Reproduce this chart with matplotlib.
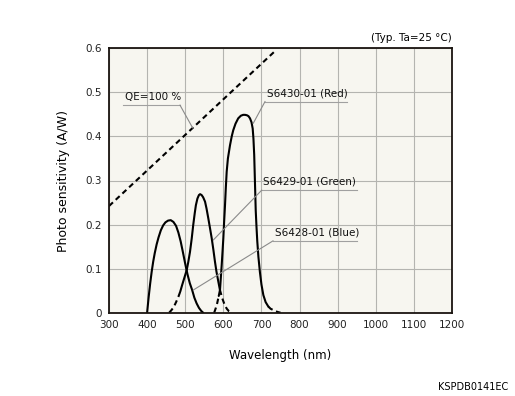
import matplotlib
matplotlib.use("Agg")
import matplotlib.pyplot as plt

# ---- data ----
qe_wl = [300, 736]
qe_val = [0.242, 0.594]

blue_wl = [400, 404, 408, 412, 416, 420, 425, 430, 436, 442, 448, 455, 462, 469, 476, 482, 488, 494, 500, 506, 512, 518, 524, 530, 536, 542, 547]
blue_val = [0.0, 0.035, 0.066, 0.093, 0.116, 0.135, 0.155, 0.171, 0.187, 0.198, 0.205, 0.209, 0.210, 0.206, 0.197, 0.182, 0.162, 0.137, 0.111, 0.087, 0.067, 0.052, 0.034, 0.021, 0.011, 0.004, 0.0]

green_dash1_wl = [458, 464, 470, 476, 482, 487]
green_dash1_val = [0.0, 0.006, 0.013, 0.024, 0.036, 0.048]
green_wl = [487, 492, 498, 504, 508, 512.5, 517, 521, 525, 528, 532, 536, 539, 543, 547, 552, 556, 560.6, 565, 569.5, 574, 578, 582, 587, 591]
green_val = [0.048, 0.063, 0.080, 0.097, 0.115, 0.138, 0.168, 0.199, 0.226, 0.244, 0.259, 0.267, 0.269, 0.267, 0.262, 0.252, 0.236, 0.214, 0.192, 0.169, 0.142, 0.116, 0.093, 0.070, 0.052]
green_dash2_wl = [591, 597, 603, 609, 615, 622]
green_dash2_val = [0.052, 0.033, 0.019, 0.009, 0.003, 0.0]

red_dash1_wl = [576, 580, 584, 588]
red_dash1_val = [0.0, 0.010, 0.022, 0.038]
red_wl = [588, 591.3, 593.5, 595.7, 598, 600, 602, 604.4, 606.5, 608.8, 612, 617.5, 622, 626, 632, 639, 646, 652, 657, 662, 666, 670, 674, 677, 679, 681, 683, 685, 687, 689, 692, 696, 700, 705, 711, 718]
red_val = [0.038, 0.052, 0.080, 0.108, 0.140, 0.169, 0.205, 0.244, 0.283, 0.320, 0.350, 0.380, 0.400, 0.414, 0.429, 0.441, 0.447, 0.449, 0.449, 0.448, 0.446, 0.441, 0.432, 0.418, 0.395, 0.358, 0.295, 0.232, 0.195, 0.163, 0.127, 0.092, 0.064, 0.040, 0.024, 0.014]
red_dash2_wl = [718, 724, 731, 738, 745, 750]
red_dash2_val = [0.014, 0.009, 0.006, 0.003, 0.001, 0.0]

x_ticks = [300, 400, 500, 600, 700, 800, 900, 1000, 1100, 1200]
y_ticks = [0, 0.1, 0.2, 0.3, 0.4, 0.5, 0.6]
y_ticklabels = ["0", "0.1", "0.2", "0.3", "0.4", "0.5", "0.6"]

labels = ["QE=100 %", "S6430-01 (Red)", "S6429-01 (Green)", "S6428-01 (Blue)"]

# ---- figure ----
plt.rcParams['font.family'] = ['DejaVu Sans']
fig = plt.figure(figsize=(5.15, 3.96), dpi=100)
ax = fig.add_axes([109/515, 1-312.7/396, (452-109)/515, (312.7-48.3)/396])
ax.set_facecolor('#f7f6f0')

ax.set_xlim(300, 1200)
ax.set_ylim(0, 0.6)
ax.set_xticks(x_ticks)
ax.set_yticks(y_ticks)
ax.set_yticklabels(y_ticklabels)
ax.grid(True, color='#b4b4b0', linewidth=0.8)
ax.set_axisbelow(True)
ax.tick_params(length=0, labelsize=7.5, pad=5, colors='#222222')
for s in ax.spines.values():
    s.set_color('#1a1410')
    s.set_linewidth(1.3)

lw = 1.5
dash = (0, (2.6, 1.8))
kw = dict(color='black', lw=lw, solid_joinstyle='round', solid_capstyle='round')
ax.plot(qe_wl, qe_val, color='black', lw=lw, linestyle=dash)
ax.plot(blue_wl, blue_val, **kw)
ax.plot(green_wl, green_val, **kw)
ax.plot(green_dash1_wl, green_dash1_val, color='black', lw=lw, linestyle=dash)
ax.plot(green_dash2_wl, green_dash2_val, color='black', lw=lw, linestyle=dash)
ax.plot(red_wl, red_val, **kw)
ax.plot(red_dash1_wl, red_dash1_val, color='black', lw=lw, linestyle=dash)
ax.plot(red_dash2_wl, red_dash2_val, color='black', lw=lw, linestyle=dash)

# annotations: (text_x, underline_y, underline_x_end, target_x, target_y, side)
ann = [
    (336.7, 0.471, 486.3, 519.4, 0.4195, 'right'),
    (709.3, 0.479, 923.7, 678.6, 0.430, 'left'),
    (700.7, 0.278, 950.0, 573.7, 0.165, 'left'),
    (730.3, 0.163, 950.8, 521.2, 0.0515, 'left'),
]
for lab, (x0, yu, x1, tx, ty, side) in zip(labels, ann):
    ax.plot([x0, x1], [yu, yu], color='#a0a0a0', lw=0.8)
    sx = x1 if side == 'right' else x0
    ax.plot([sx, tx], [yu, ty], color='#8a8a8a', lw=0.8)
    ax.text(x0 + 4, yu + 0.008, lab, fontsize=7.5, ha='left', va='bottom', color='#111111')

ax.set_xlabel("Wavelength (nm)", fontsize=8.5, labelpad=14)
ax.set_ylabel("Photo sensitivity (A/W)", fontsize=9, labelpad=11)

fig.text(452/515, 1-38/396, "(Typ. Ta=25 °C)", fontsize=7.5, ha='right', va='center')
fig.text(508/515, 1-387/396, "KSPDB0141EC", fontsize=7, ha='right', va='center')

fig.savefig("out.png", dpi=100)
